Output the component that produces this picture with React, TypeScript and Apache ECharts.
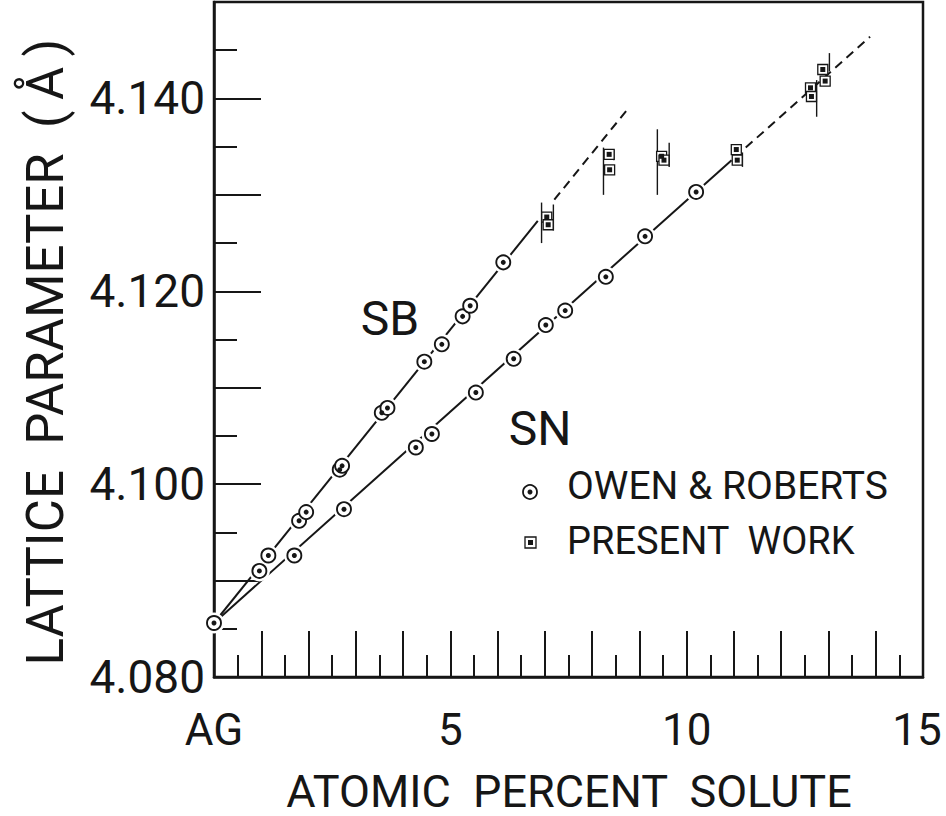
import React, { useEffect, useRef } from 'react';
import * as echarts from 'echarts';

// ---- data ----
const xTickLabels: Record<number, string> = { 0: 'AG', 5: '5', 10: '10', 15: '15' };
const yTickLabels: Record<number, string> = { 4080: '4.080', 4100: '4.100', 4120: '4.120', 4140: '4.140' };

// Owen & Roberts, Ag-Sb
const owenSB: number[][] = [
  [0, 4.0856], [0.96, 4.091], [1.15, 4.0926], [1.8, 4.0962], [1.95, 4.0971],
  [2.66, 4.1015], [2.71, 4.1019], [3.55, 4.1074], [3.67, 4.1079], [4.45, 4.1127],
  [4.82, 4.1145], [5.26, 4.1174], [5.42, 4.1185], [6.12, 4.123],
];
// Owen & Roberts, Ag-Sn
const owenSN: number[][] = [
  [1.7, 4.0926], [2.75, 4.0974], [4.27, 4.1038], [4.61, 4.1052], [5.54, 4.1095],
  [6.34, 4.113], [7.02, 4.1165], [7.43, 4.118], [8.29, 4.1215], [9.12, 4.1257],
  [10.2, 4.1303],
];
// Present work
const presentWork: number[][] = [
  [7.04, 4.1277], [7.07, 4.1269], [8.36, 4.1342], [8.37, 4.1326],
  [9.47, 4.134], [9.52, 4.1336], [11.05, 4.1347], [11.07, 4.1336],
  [12.62, 4.1411], [12.64, 4.1402], [12.88, 4.143], [12.93, 4.1418],
];
// vertical range bars: [x, low, high]
const rangeBars: number[][] = [
  [6.93, 4.125, 4.1292], [7.18, 4.1263, 4.129],
  [8.24, 4.13, 4.1349], [8.46, 4.1336, 4.1347],
  [9.38, 4.13, 4.1368], [9.63, 4.1329, 4.1354],
  [11.18, 4.1329, 4.1344],
  [12.75, 4.1381, 4.1419], [13.02, 4.1428, 4.1447],
];
// fitted lines
const sbSolid: number[][] = [[0, 4.0856], [6.85, 4.1273]];
const sbDashed: number[][] = [[7.2, 4.1295], [8.77, 4.139]];
const snSolid: number[][] = [[0, 4.0856], [10.95, 4.1336]];
const snDashed: number[][] = [[11.25, 4.1349], [13.88, 4.1464]];

const INK = '#161616';
const FONT = 'Roboto';

export default function App() {
  const ref = useRef<HTMLDivElement>(null);

  useEffect(() => {
    if (!ref.current) return;
    const chart = echarts.init(ref.current, undefined, { renderer: 'svg' });
    const owenAll = owenSB.concat(owenSN);

    const lineSeries = (data: number[][], dashed: boolean) => ({
      type: 'line',
      data,
      showSymbol: false,
      symbol: 'none',
      silent: true,
      lineStyle: { color: INK, width: 2, type: dashed ? [9, 6] : 'solid' },
      z: 2,
    });

    const centered = { align: 'center', verticalAlign: 'middle', textAlign: 'center', textVerticalAlign: 'middle' };
    const leftMid = { align: 'left', verticalAlign: 'middle', textAlign: 'left', textVerticalAlign: 'middle' };

    const option: any = {
      animation: false,
      backgroundColor: '#fff',
      grid: {
        left: 214, top: 2, width: 709, height: 675,
        show: true, borderColor: INK, borderWidth: 2.5, backgroundColor: 'transparent',
        containLabel: false, outerBoundsMode: 'none',
      },
      xAxis: {
        type: 'value', min: 0, max: 15, interval: 1,
        axisLine: { show: true, lineStyle: { color: INK, width: 2.5 } },
        axisTick: { show: true, inside: true, length: 46, lineStyle: { color: INK, width: 2 } },
        minorTick: { show: true, splitNumber: 2, length: 22, lineStyle: { color: INK, width: 2 } },
        splitLine: { show: false },
        axisLabel: {
          show: true, interval: 0, margin: 31, color: INK, fontFamily: FONT, fontSize: 44,
          showMinLabel: true, showMaxLabel: true,
          formatter: (v: number) => {
            const r = Math.round(v);
            if (Math.abs(v - r) > 1e-6 || xTickLabels[r] === undefined) return '';
            return r === 15 ? '{last|' + xTickLabels[r] + '}' : xTickLabels[r];
          },
          rich: {
            last: { fontFamily: FONT, fontSize: 44, color: INK, padding: [0, 12, 0, 0] },
          },
        },
      },
      yAxis: {
        type: 'value', min: 4.08, max: 4.15, interval: 0.01,
        axisLine: { show: true, lineStyle: { color: INK, width: 2.5 } },
        axisTick: { show: true, inside: true, length: 47, lineStyle: { color: INK, width: 2 } },
        minorTick: { show: true, splitNumber: 2, length: 23, lineStyle: { color: INK, width: 2 } },
        splitLine: { show: false },
        axisLabel: {
          show: true, margin: 9, color: INK, fontFamily: FONT, fontSize: 46,
          formatter: (v: number) => yTickLabels[Math.round(v * 1000)] ?? '',
        },
      },
      series: [
        lineSeries(sbSolid, false),
        lineSeries(sbDashed, true),
        lineSeries(snSolid, false),
        lineSeries(snDashed, true),
        {
          type: 'custom',
          data: rangeBars,
          encode: { x: 0, y: [1, 2] },
          silent: true,
          z: 3,
          renderItem: (params: any, api: any) => {
            const x = api.value(0);
            const p1 = api.coord([x, api.value(1)]);
            const p2 = api.coord([x, api.value(2)]);
            return {
              type: 'line',
              shape: { x1: p1[0], y1: p1[1], x2: p2[0], y2: p2[1] },
              style: { stroke: INK, lineWidth: 1.4 },
            };
          },
        },
        {
          type: 'scatter', data: owenAll, symbol: 'circle', symbolSize: 21, silent: true, z: 4,
          itemStyle: { color: '#fff', opacity: 1 },
        },
        {
          type: 'scatter', data: owenAll, symbol: 'circle', symbolSize: 14, silent: true, z: 5,
          itemStyle: { color: '#fff', borderColor: INK, borderWidth: 1.9, opacity: 1 },
        },
        {
          type: 'scatter', data: owenAll, symbol: 'circle', symbolSize: 5, silent: true, z: 6,
          itemStyle: { color: INK, opacity: 1 },
        },
        {
          type: 'scatter', data: presentWork, symbol: 'rect', symbolSize: 10, silent: true, z: 5,
          itemStyle: { color: '#fff', borderColor: INK, borderWidth: 1.3, opacity: 1 },
        },
        {
          type: 'scatter', data: presentWork, symbol: 'rect', symbolSize: 5, silent: true, z: 6,
          itemStyle: { color: INK, opacity: 1 },
        },
      ],
      graphic: [
        {
          type: 'text', x: 45, y: 352, rotation: Math.PI / 2,
          style: { text: 'LATTICE  PARAMETER  (\u2009Å\u2009)', font: `51px ${FONT}`, fill: INK, lineHeight: 50, ...centered },
        },
        {
          type: 'text', x: 569, y: 791,
          style: { text: 'ATOMIC  PERCENT  SOLUTE', font: `45px ${FONT}`, fill: INK, lineHeight: 44, ...centered },
        },
        {
          type: 'text', x: 390, y: 318,
          style: { text: 'SB', font: `48px ${FONT}`, fill: INK, ...centered },
        },
        {
          type: 'text', x: 540, y: 428,
          style: { text: 'SN', font: `48px ${FONT}`, fill: INK, ...centered },
        },
        { type: 'circle', shape: { cx: 530, cy: 492, r: 7 }, style: { fill: '#fff', stroke: INK, lineWidth: 1.8 } },
        { type: 'circle', shape: { cx: 530, cy: 492, r: 2.5 }, style: { fill: INK } },
        {
          type: 'text', x: 567, y: 486,
          style: { text: 'OWEN & ROBERTS', font: `39px ${FONT}`, fill: INK, ...leftMid },
        },
        { type: 'rect', shape: { x: 525, y: 537, width: 11, height: 11 }, style: { fill: '#fff', stroke: INK, lineWidth: 1.3 } },
        { type: 'rect', shape: { x: 528, y: 540, width: 5, height: 5 }, style: { fill: INK } },
        {
          type: 'text', x: 567, y: 541,
          style: { text: 'PRESENT  WORK', font: `38px ${FONT}`, fill: INK, ...leftMid },
        },
      ],
    };

    chart.setOption(option);
    return () => chart.dispose();
  }, []);

  return (
    <div
      ref={ref}
      style={{ position: 'fixed', left: 0, top: 0, width: 946, height: 816, background: '#fff' }}
    />
  );
}
